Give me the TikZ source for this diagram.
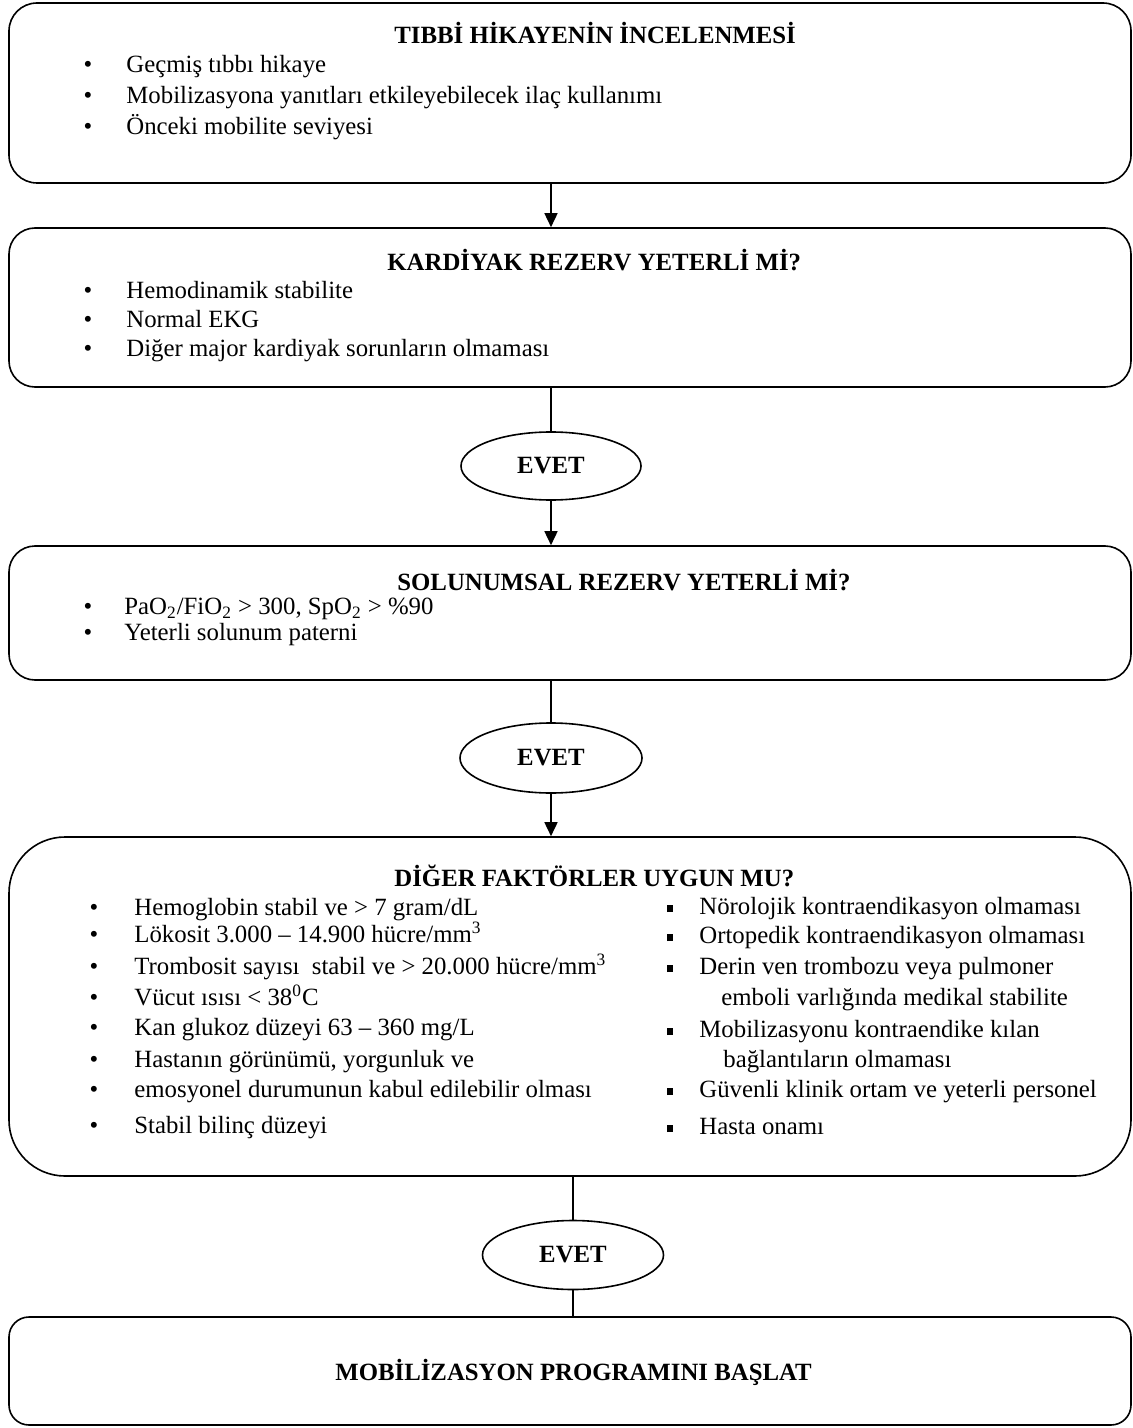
\documentclass[tikz,border=0pt]{standalone}
\usepackage{fontspec}
\setmainfont{Liberation Serif}
\usepackage{tikz}
\usetikzlibrary{arrows.meta, positioning, shapes.geometric, calc}

\tikzset{
  stage/.style={draw, line width=0.8pt, inner sep=0pt, minimum width=561pt},
  yesnode/.style={draw, ellipse, line width=0.8pt, inner sep=0pt, font=\fontsize{12.4}{14}\selectfont\bfseries},
  head/.style={anchor=west, inner sep=0pt, text height=8.5pt, text depth=1pt, font=\fontsize{12.4}{14}\selectfont\bfseries},
  item/.style={anchor=west, inner sep=0pt, text height=8pt, text depth=2.5pt, font=\fontsize{12.4}{14}\selectfont},
  dot/.style={inner sep=0pt, text height=8pt, text depth=2.5pt, font=\fontsize{12.4}{14}\selectfont},
  flow/.style={line width=0.8pt, -{Triangle[length=7pt, width=6.5pt]}},
  link/.style={line width=0.8pt}
}
\newcommand{\sqbul}{\raisebox{1.2pt}{\rule{3.4pt}{3.4pt}}}

\begin{document}
\begin{tikzpicture}[x=0.5pt, y=-0.5pt]
\useasboundingbox (0,0) rectangle (1133,1428);

% boxes
\node[stage, rounded corners=14pt, minimum height=90pt] (b1) at (570,93) {};
\node[stage, rounded corners=13pt, minimum height=79.5pt] (b2) at (570,307.5) {};
\node[stage, rounded corners=13pt, minimum height=67pt] (b3) at (570,613) {};
\node[stage, rounded corners=28pt, minimum height=169.5pt] (b4) at (570,1006.5) {};
\node[stage, rounded corners=10pt, minimum height=54pt] (b5) at (570,1371) {};

% yes ellipses
\node[yesnode, minimum width=90pt, minimum height=34pt] (e1) at (551,466) {EVET};
\node[yesnode, minimum width=91pt, minimum height=35pt] (e2) at (551,758) {EVET};
\node[yesnode, minimum width=90.5pt, minimum height=34.5pt] (e3) at (573,1255) {EVET};

% connectors
\draw[flow] (b1.south -| e1) -- (b2.north -| e1);
\draw[link] (b2.south -| e1) -- (e1.north);
\draw[flow] (e1.south) -- (b3.north -| e1);
\draw[link] (b3.south -| e2) -- (e2.north);
\draw[flow] (e2.south) -- (b4.north -| e2);
\draw[link] (b4.south -| e3) -- (e3.north);
\draw[link] (e3.south) -- (b5.north -| e3);

% medical history
\node[head] (h1) at (394,36) {TIBBİ HİKAYENİN İNCELENMESİ};
\foreach \y/\t [count=\i] in {67/{Geçmiş tıbbı hikaye},
    98/{Mobilizasyona yanıtları etkileyebilecek ilaç kullanımı},
    129/{Önceki mobilite seviyesi}} {
  \node[dot] (p1\i) at (88,\y) {•};
  \node[item] (t1\i) at (126,\y) {\t};
}

% cardiac reserve
\node[head] (h2) at (387,263) {KARDİYAK REZERV YETERLİ Mİ?};
\foreach \y/\t [count=\i] in {293/{Hemodinamik stabilite},
    322/{Normal EKG},
    351/{Diğer major kardiyak sorunların olmaması}} {
  \node[dot] (p2\i) at (88,\y) {•};
  \node[item] (t2\i) at (126,\y) {\t};
}

% respiratory reserve
\node[head] (h3) at (397,583) {SOLUNUMSAL REZERV YETERLİ Mİ?};
\foreach \y/\t [count=\i] in {609/{PaO\textsubscript{2}/FiO\textsubscript{2} > 300, SpO\textsubscript{2} > \%90},
    635/{Yeterli solunum paterni}} {
  \node[dot] (p3\i) at (88,\y) {•};
  \node[item] (t3\i) at (124,\y) {\t};
}

% other factors
\node[head] (h4) at (394,879) {DİĞER FAKTÖRLER UYGUN MU?};
\foreach \y/\t [count=\i] in {910/{Hemoglobin stabil ve > 7 gram/dL},
    937/{Lökosit 3.000 -- 14.900 hücre/mm\textsuperscript{3}},
    969/{Trombosit sayısı~ stabil ve > 20.000 hücre/mm\textsuperscript{3}},
    1000/{Vücut ısısı < 38\textsuperscript{0}C},
    1030/{Kan glukoz düzeyi 63 -- 360 mg/L},
    1062/{Hastanın görünümü, yorgunluk ve},
    1092/{emosyonel durumunun kabul edilebilir olması},
    1128/{Stabil bilinç düzeyi}} {
  \node[dot] (p4\i) at (94,\y) {•};
  \node[item] (t4\i) at (134,\y) {\t};
}
\foreach \y/\t [count=\i] in {909/{Nörolojik kontraendikasyon olmaması},
    938/{Ortopedik kontraendikasyon olmaması},
    969/{Derin ven trombozu veya pulmoner},
    1032/{Mobilizasyonu kontraendike kılan},
    1092/{Güvenli klinik ortam ve yeterli personel},
    1129/{Hasta onamı}} {
  \node[dot] (q4\i) at (670,\y) {\sqbul};
  \node[item] (s4\i) at (699,\y) {\t};
}
\node[item] (s4a) at (721,1000) {emboli varlığında medikal stabilite};
\node[item] (s4b) at (723,1062) {bağlantıların olmaması};

% start
\node[head] (h5) at (335,1373) {MOBİLİZASYON PROGRAMINI BAŞLAT};
\end{tikzpicture}
\end{document}
